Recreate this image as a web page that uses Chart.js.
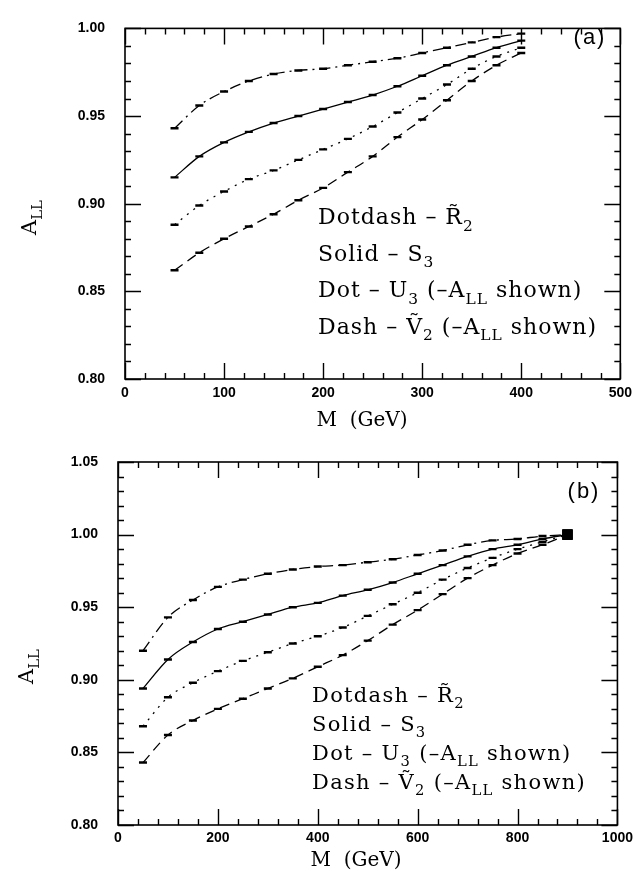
<!DOCTYPE html>
<html>
<head>
<meta charset="utf-8">
<script src="https://cdn.jsdelivr.net/npm/chart.js@4"></script>
<style>
  body { margin: 0; background: #fff; }
  .panel { position: absolute; left: 0; width: 638px; }
  #wrapA { top: 0; height: 430px; }
  #wrapB { top: 430px; height: 441px; }
</style>
</head>
<body>
<div class="panel" id="wrapA"><canvas id="chartA"></canvas></div>
<div class="panel" id="wrapB"><canvas id="chartB"></canvas></div>
<script>
// panel (a): M от 50 до 400 ГэВ
const massA = [50, 75, 100, 125, 150, 175, 200, 225, 250, 275, 300, 325, 350, 375, 400];
const dotdashA = [0.943, 0.956, 0.964, 0.970, 0.974, 0.976, 0.977, 0.979, 0.981, 0.983, 0.986, 0.989, 0.992, 0.995, 0.997];
const solidA = [0.915, 0.927, 0.935, 0.941, 0.946, 0.950, 0.954, 0.958, 0.962, 0.967, 0.973, 0.979, 0.984, 0.989, 0.993];
const dotA = [0.888, 0.899, 0.907, 0.914, 0.919, 0.925, 0.931, 0.937, 0.944, 0.952, 0.960, 0.968, 0.977, 0.984, 0.989];
const dashA = [0.862, 0.872, 0.880, 0.887, 0.894, 0.902, 0.909, 0.918, 0.927, 0.938, 0.948, 0.959, 0.970, 0.979, 0.986];

// panel (b): M от 50 до 900 ГэВ
const massB = [50, 100, 150, 200, 250, 300, 350, 400, 450, 500, 550, 600, 650, 700, 750, 800, 850, 900];
const dotdashB = [0.920, 0.943, 0.955, 0.964, 0.969, 0.973, 0.976, 0.978, 0.979, 0.981, 0.983, 0.986, 0.989, 0.993, 0.996, 0.997, 0.999, 1.000];
const solidB = [0.894, 0.914, 0.926, 0.935, 0.940, 0.945, 0.950, 0.953, 0.958, 0.962, 0.967, 0.973, 0.979, 0.985, 0.990, 0.993, 0.997, 1.000];
const dotB = [0.868, 0.888, 0.898, 0.906, 0.913, 0.919, 0.925, 0.930, 0.936, 0.944, 0.952, 0.960, 0.969, 0.977, 0.984, 0.990, 0.995, 1.000];
const dashB = [0.843, 0.862, 0.872, 0.880, 0.887, 0.894, 0.901, 0.909, 0.917, 0.927, 0.938, 0.948, 0.959, 0.970, 0.979, 0.987, 0.993, 1.000];

// tick labels
const xTicksA = [0, 100, 200, 300, 400, 500];
const yTicksA = [0.80, 0.85, 0.90, 0.95, 1.00];
const xTicksB = [0, 200, 400, 600, 800, 1000];
const yTicksB = [0.80, 0.85, 0.90, 0.95, 1.00, 1.05];

// legend text (sub = subscript)
const legendLines = [
    [{ t: 'Dotdash – ' }, { t: 'R\u0303' }, { t: '2', sub: true }],
    [{ t: 'Solid – S' }, { t: '3', sub: true }],
    [{ t: 'Dot – U' }, { t: '3', sub: true }, { t: ' (–A' }, { t: 'LL', sub: true }, { t: ' shown)' }],
    [{ t: 'Dash – V\u0303' }, { t: '2', sub: true }, { t: ' (–A' }, { t: 'LL', sub: true }, { t: ' shown)' }]
];

const SERIF = "'DejaVu Serif', serif";
const SANS = "'Liberation Sans', Arial, sans-serif";

function drawRich(ctx, x, y, parts, size, spacing) {
    let cx = x;
    ctx.letterSpacing = (spacing || 0) + 'px';
    for (const p of parts) {
        const fs = p.sub ? size * 0.7 : size;
        ctx.font = fs + 'px ' + SERIF;
        ctx.fillText(p.t, cx, y + (p.sub ? size * 0.3 : 0));
        cx += ctx.measureText(p.t).width;
    }
    ctx.letterSpacing = '0px';
}

// рамка с внутренними засечками на всех четырёх сторонах
const frameTicks = {
    id: 'frameTicks',
    afterDatasetsDraw(chart, args, o) {
        const { ctx, chartArea: a, scales: { x, y } } = chart;
        ctx.save();
        ctx.strokeStyle = '#000';
        ctx.lineWidth = 1.4;
        ctx.beginPath();
        const isMajor = (v, step) => Math.abs(v / step - Math.round(v / step)) < 1e-6;
        for (let v = x.min; v <= x.max + 1e-9; v += o.xMinor) {
            const len = isMajor(v, o.xMajor) ? 16 : 6;
            const px = Math.round(x.getPixelForValue(v)) + 0.5;
            ctx.moveTo(px, a.bottom); ctx.lineTo(px, a.bottom - len);
            ctx.moveTo(px, a.top); ctx.lineTo(px, a.top + len);
        }
        for (let i = 0; ; i++) {
            const v = y.min + i * o.yMinor;
            if (v > y.max + 1e-9) break;
            const len = isMajor(v - y.min, o.yMajor) ? 16 : 6;
            const py = Math.round(y.getPixelForValue(v)) + 0.5;
            ctx.moveTo(a.left, py); ctx.lineTo(a.left + len, py);
            ctx.moveTo(a.right, py); ctx.lineTo(a.right - len, py);
        }
        ctx.stroke();
        ctx.lineWidth = 1.6;
        ctx.strokeRect(a.left, a.top, a.right - a.left, a.bottom - a.top);
        ctx.restore();
    }
};

// подписи: панель, легенда, заголовки осей
const annotations = {
    id: 'annotations',
    afterDraw(chart, args, o) {
        const ctx = chart.ctx;
        ctx.save();
        ctx.fillStyle = '#000';
        ctx.textBaseline = 'alphabetic';
        // (a) / (b)
        ctx.font = '22px ' + SANS;
        ctx.letterSpacing = '2px';
        ctx.textAlign = 'center';
        ctx.fillText(o.panel, o.panelX, o.panelY);
        ctx.letterSpacing = '0px';
        ctx.textAlign = 'left';
        // legend
        legendLines.forEach((parts, i) => {
            drawRich(ctx, o.legX, o.legY + i * o.legGap, parts, o.legSize, o.legSpacing);
        });
        // M (GeV)
        ctx.font = '20px ' + SERIF;
        ctx.textAlign = 'center';
        ctx.fillText('M  (GeV)', o.xTitleX, o.xTitleY);
        // A_LL, rotated
        ctx.translate(o.yTitleX, o.yTitleY);
        ctx.rotate(-Math.PI / 2);
        ctx.textAlign = 'left';
        drawRich(ctx, -16, 0, [{ t: 'A' }, { t: 'LL', sub: true }], 21);
        ctx.restore();
    }
};

function series(mass, vals, dash, lastSquare) {
    return {
        data: mass.map((m, i) => ({ x: m, y: vals[i] })),
        borderColor: '#000',
        borderWidth: 1.3,
        borderDash: dash,
        fill: false,
        cubicInterpolationMode: 'monotone',
        pointStyle: mass.map((m, i) => (lastSquare && i === mass.length - 1) ? 'rect' : 'line'),
        pointRadius: mass.map((m, i) => (lastSquare && i === mass.length - 1) ? 5.5 : 4),
        pointBorderWidth: 2.4,
        pointBorderColor: '#000',
        pointBackgroundColor: '#000'
    };
}

function makeChart(id, p) {
    return new Chart(document.getElementById(id), {
        type: 'line',
        data: {
            datasets: [
                series(p.mass, p.dotdash, [11, 5, 2, 5], p.lastSquare),
                series(p.mass, p.solid, [], p.lastSquare),
                series(p.mass, p.dot, [2, 6], p.lastSquare),
                series(p.mass, p.dash, [10, 6], p.lastSquare)
            ]
        },
        options: {
            responsive: true,
            maintainAspectRatio: false,
            animation: false,
            layout: { padding: p.padding },
            plugins: {
                legend: { display: false },
                tooltip: { enabled: false },
                frameTicks: p.frame,
                annotations: p.notes
            },
            scales: {
                x: {
                    type: 'linear',
                    min: p.xTicks[0],
                    max: p.xTicks[p.xTicks.length - 1],
                    grid: { display: false, tickLength: 0 },
                    border: { display: false },
                    afterBuildTicks: s => { s.ticks = p.xTicks.map(v => ({ value: v })); },
                    afterFit: s => { s.height = p.xHeight; },
                    ticks: {
                        color: '#000',
                        padding: p.xPad,
                        maxRotation: 0,
                        font: { size: 14, family: SANS, weight: 'bold' },
                        callback: v => String(v)
                    }
                },
                y: {
                    min: p.yTicks[0],
                    max: p.yTicks[p.yTicks.length - 1],
                    grid: { display: false, tickLength: 0 },
                    border: { display: false },
                    afterBuildTicks: s => { s.ticks = p.yTicks.map(v => ({ value: v })); },
                    afterFit: s => { s.width = p.yWidth; },
                    ticks: {
                        color: '#000',
                        padding: 20,
                        font: { size: 14, family: SANS, weight: 'bold' },
                        callback: v => v.toFixed(2)
                    }
                }
            }
        },
        plugins: [frameTicks, annotations]
    });
}

makeChart('chartA', {
    mass: massA, dotdash: dotdashA, solid: solidA, dot: dotA, dash: dashA,
    xTicks: xTicksA, yTicks: yTicksA, lastSquare: false,
    padding: { top: 15, right: 12, left: 0, bottom: 0 },
    xHeight: 51, yWidth: 125, xPad: 6,
    frame: { xMinor: 20, xMajor: 100, yMinor: 0.01, yMajor: 0.05 },
    notes: {
        panel: '(a)', panelX: 590, panelY: 44,
        legX: 318, legY: 224, legGap: 36.5, legSize: 22, legSpacing: 1,
        xTitleX: 362, xTitleY: 426,
        yTitleX: 36, yTitleY: 219
    }
});

makeChart('chartB', {
    mass: massB, dotdash: dotdashB, solid: solidB, dot: dotB, dash: dashB,
    xTicks: xTicksB, yTicks: yTicksB, lastSquare: true,
    padding: { top: 32, right: 19, left: 0, bottom: 0 },
    xHeight: 46, yWidth: 118, xPad: 5,
    frame: { xMinor: 40, xMajor: 200, yMinor: 0.01, yMajor: 0.05 },
    notes: {
        panel: '(b)', panelX: 584, panelY: 68,
        legX: 312, legY: 272, legGap: 29, legSize: 21, legSpacing: 1.3,
        xTitleX: 356, xTitleY: 436,
        yTitleX: 33, yTitleY: 238
    }
});
</script>
</body>
</html>
